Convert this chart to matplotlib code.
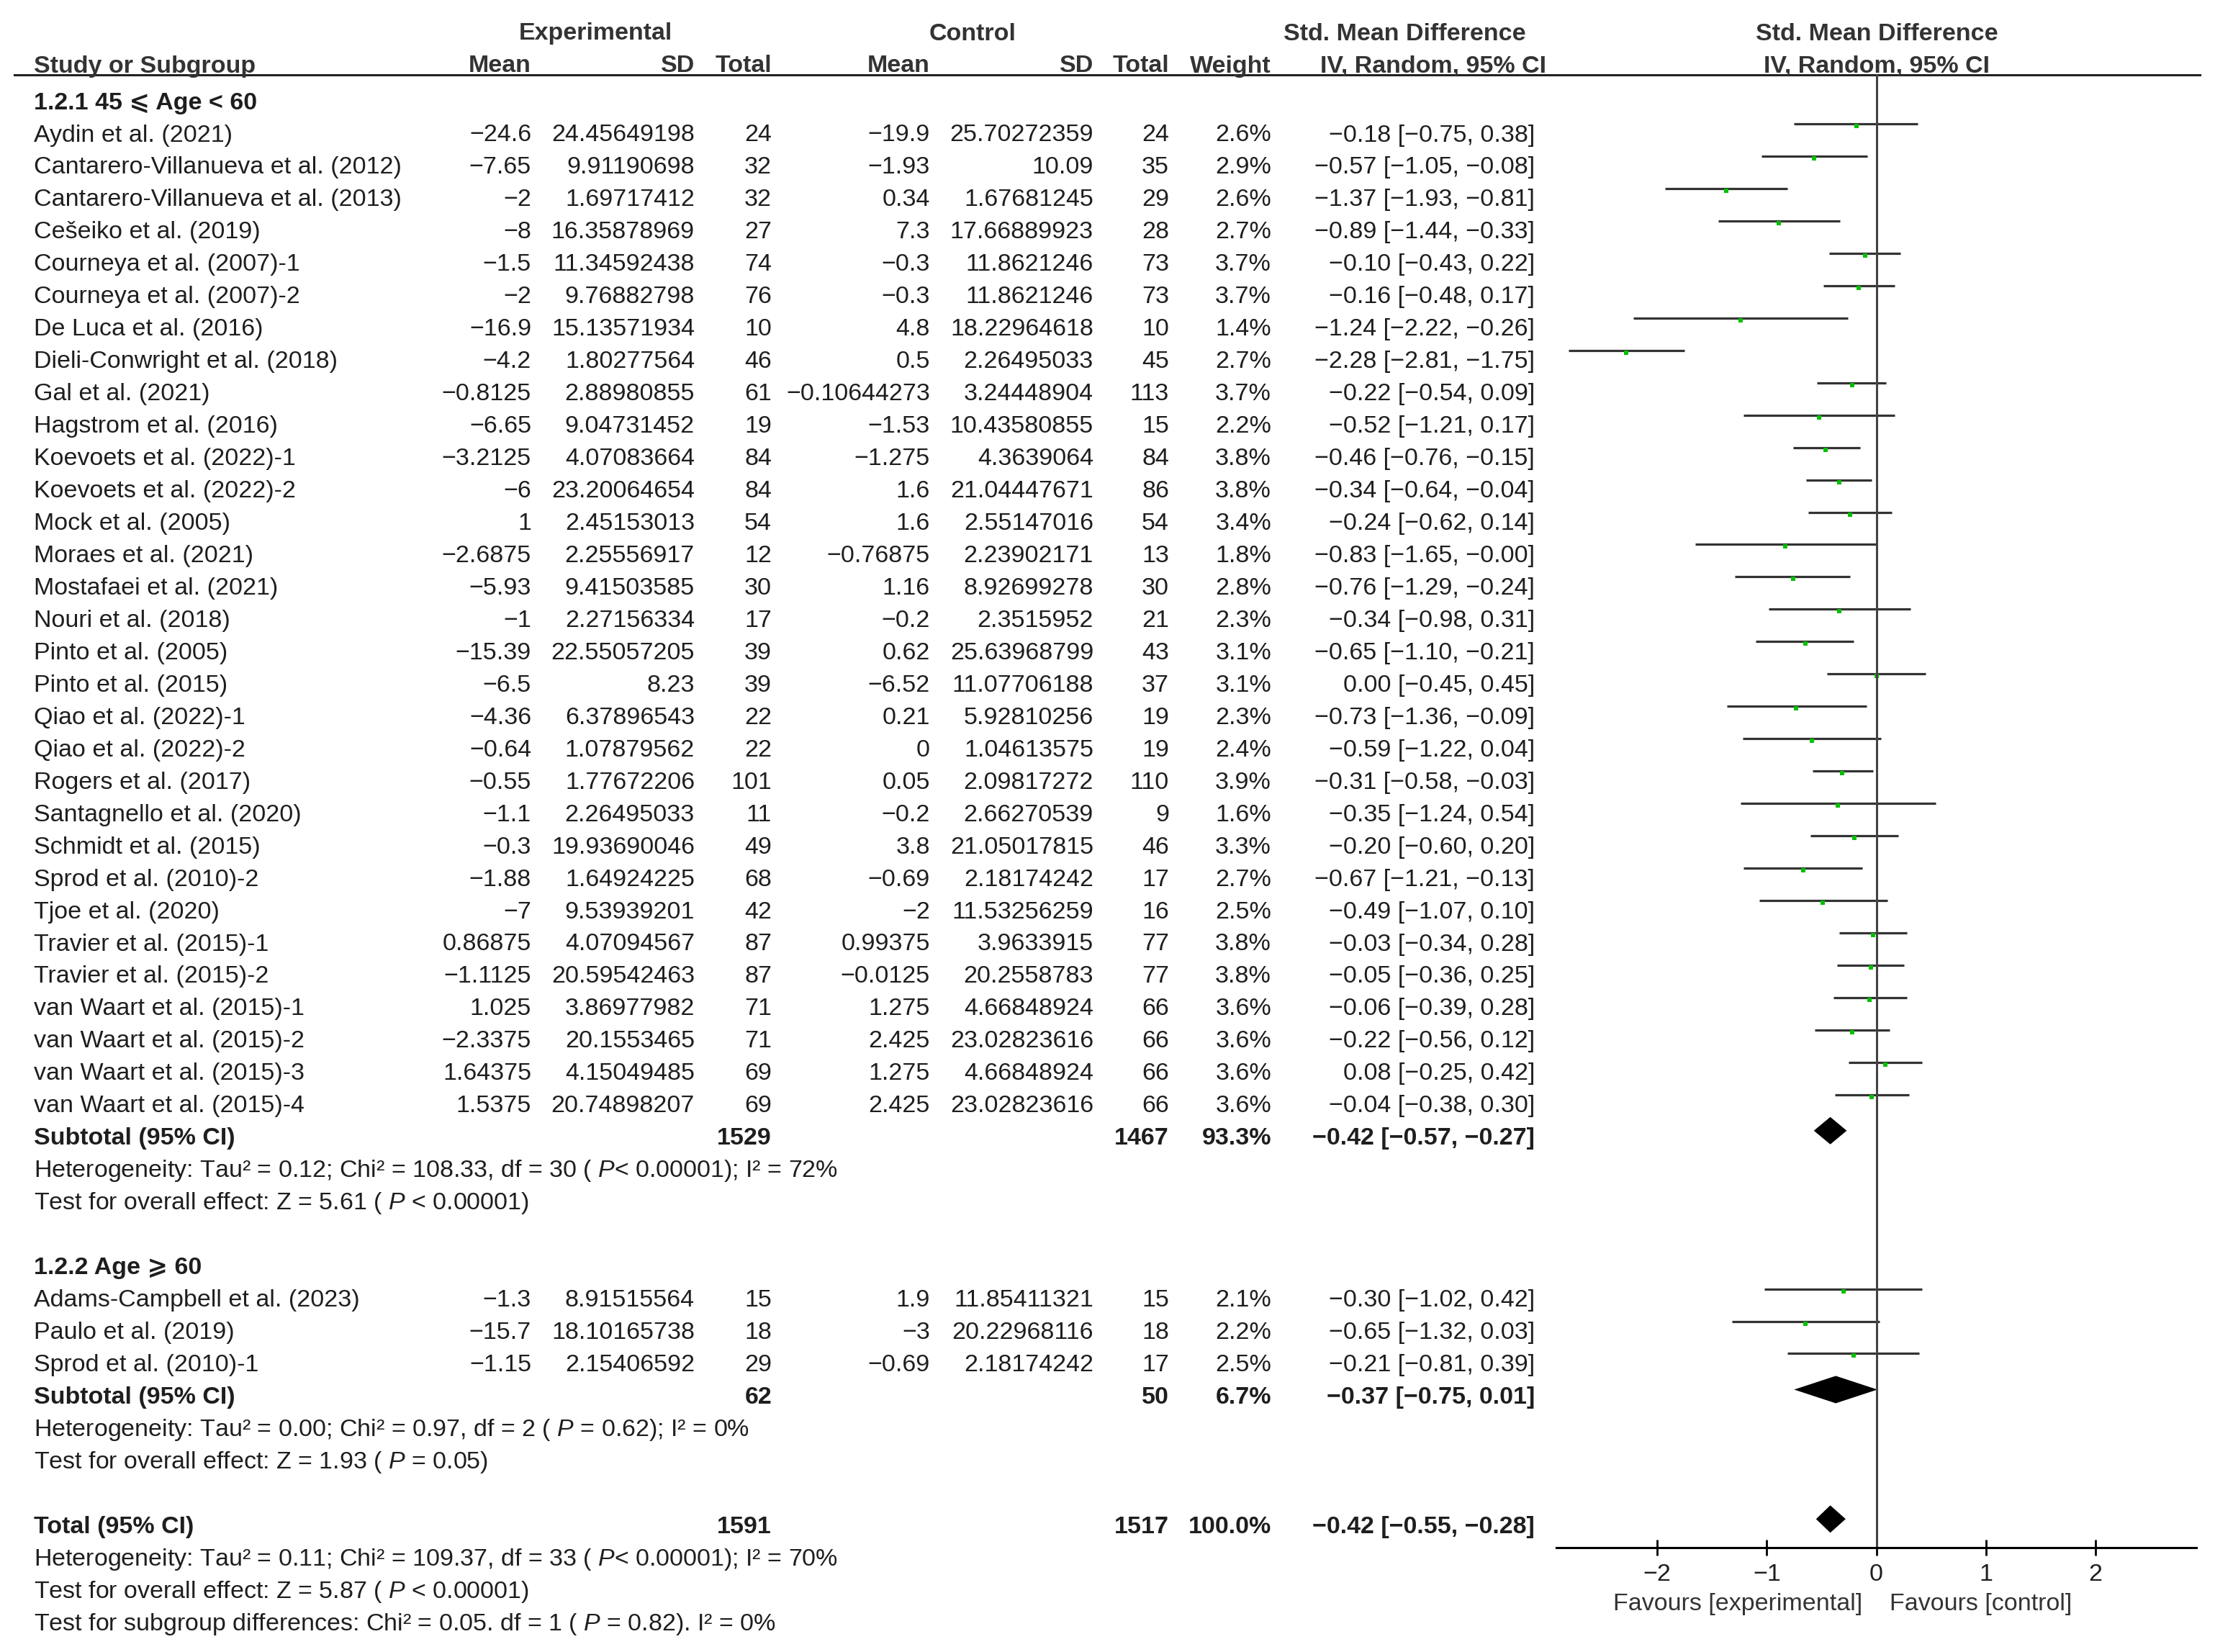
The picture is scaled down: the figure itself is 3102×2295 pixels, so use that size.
import matplotlib.pyplot as plt
import numpy as np

plt.rcParams['font.family'] = ['Liberation Sans', 'DejaVu Sans']
plt.rcParams['mathtext.fontset'] = 'custom'
plt.rcParams['mathtext.it'] = 'Liberation Sans:italic'
plt.rcParams['mathtext.rm'] = 'Liberation Sans'

# ---- subgroup 1.2.1 ----
studies1 = ['Aydin et al. (2021)', 'Cantarero-Villanueva et al. (2012)', 'Cantarero-Villanueva et al. (2013)',
            'Cešeiko et al. (2019)', 'Courneya et al. (2007)-1', 'Courneya et al. (2007)-2', 'De Luca et al. (2016)',
            'Dieli-Conwright et al. (2018)', 'Gal et al. (2021)', 'Hagstrom et al. (2016)', 'Koevoets et al. (2022)-1',
            'Koevoets et al. (2022)-2', 'Mock et al. (2005)', 'Moraes et al. (2021)', 'Mostafaei et al. (2021)',
            'Nouri et al. (2018)', 'Pinto et al. (2005)', 'Pinto et al. (2015)', 'Qiao et al. (2022)-1',
            'Qiao et al. (2022)-2', 'Rogers et al. (2017)', 'Santagnello et al. (2020)', 'Schmidt et al. (2015)',
            'Sprod et al. (2010)-2', 'Tjoe et al. (2020)', 'Travier et al. (2015)-1', 'Travier et al. (2015)-2',
            'van Waart et al. (2015)-1', 'van Waart et al. (2015)-2', 'van Waart et al. (2015)-3',
            'van Waart et al. (2015)-4']
exp_mean1 = ['−24.6', '−7.65', '−2', '−8', '−1.5', '−2', '−16.9', '−4.2', '−0.8125', '−6.65', '−3.2125', '−6', '1',
             '−2.6875', '−5.93', '−1', '−15.39', '−6.5', '−4.36', '−0.64', '−0.55', '−1.1', '−0.3', '−1.88', '−7',
             '0.86875', '−1.1125', '1.025', '−2.3375', '1.64375', '1.5375']
exp_sd1 = ['24.45649198', '9.91190698', '1.69717412', '16.35878969', '11.34592438', '9.76882798', '15.13571934',
           '1.80277564', '2.88980855', '9.04731452', '4.07083664', '23.20064654', '2.45153013', '2.25556917',
           '9.41503585', '2.27156334', '22.55057205', '8.23', '6.37896543', '1.07879562', '1.77672206', '2.26495033',
           '19.93690046', '1.64924225', '9.53939201', '4.07094567', '20.59542463', '3.86977982', '20.1553465',
           '4.15049485', '20.74898207']
exp_n1 = [24, 32, 32, 27, 74, 76, 10, 46, 61, 19, 84, 84, 54, 12, 30, 17, 39, 39, 22, 22, 101, 11, 49, 68, 42, 87,
          87, 71, 71, 69, 69]
ctl_mean1 = ['−19.9', '−1.93', '0.34', '7.3', '−0.3', '−0.3', '4.8', '0.5', '−0.10644273', '−1.53', '−1.275', '1.6',
             '1.6', '−0.76875', '1.16', '−0.2', '0.62', '−6.52', '0.21', '0', '0.05', '−0.2', '3.8', '−0.69', '−2',
             '0.99375', '−0.0125', '1.275', '2.425', '1.275', '2.425']
ctl_sd1 = ['25.70272359', '10.09', '1.67681245', '17.66889923', '11.8621246', '11.8621246', '18.22964618',
           '2.26495033', '3.24448904', '10.43580855', '4.3639064', '21.04447671', '2.55147016', '2.23902171',
           '8.92699278', '2.3515952', '25.63968799', '11.07706188', '5.92810256', '1.04613575', '2.09817272',
           '2.66270539', '21.05017815', '2.18174242', '11.53256259', '3.9633915', '20.2558783', '4.66848924',
           '23.02823616', '4.66848924', '23.02823616']
ctl_n1 = [24, 35, 29, 28, 73, 73, 10, 45, 113, 15, 84, 86, 54, 13, 30, 21, 43, 37, 19, 19, 110, 9, 46, 17, 16, 77,
          77, 66, 66, 66, 66]
weight1 = [2.6, 2.9, 2.6, 2.7, 3.7, 3.7, 1.4, 2.7, 3.7, 2.2, 3.8, 3.8, 3.4, 1.8, 2.8, 2.3, 3.1, 3.1, 2.3, 2.4, 3.9,
           1.6, 3.3, 2.7, 2.5, 3.8, 3.8, 3.6, 3.6, 3.6, 3.6]
smd1 = [-0.18, -0.57, -1.37, -0.89, -0.10, -0.16, -1.24, -2.28, -0.22, -0.52, -0.46, -0.34, -0.24, -0.83, -0.76,
        -0.34, -0.65, 0.00, -0.73, -0.59, -0.31, -0.35, -0.20, -0.67, -0.49, -0.03, -0.05, -0.06, -0.22, 0.08, -0.04]
lo1 = [-0.75, -1.05, -1.93, -1.44, -0.43, -0.48, -2.22, -2.81, -0.54, -1.21, -0.76, -0.64, -0.62, -1.65, -1.29,
       -0.98, -1.10, -0.45, -1.36, -1.22, -0.58, -1.24, -0.60, -1.21, -1.07, -0.34, -0.36, -0.39, -0.56, -0.25, -0.38]
hi1 = [0.38, -0.08, -0.81, -0.33, 0.22, 0.17, -0.26, -1.75, 0.09, 0.17, -0.15, -0.04, 0.14, -0.00, -0.24, 0.31,
       -0.21, 0.45, -0.09, 0.04, -0.03, 0.54, 0.20, -0.13, 0.10, 0.28, 0.25, 0.28, 0.12, 0.42, 0.30]

# ---- subgroup 1.2.2 ----
studies2 = ['Adams-Campbell et al. (2023)', 'Paulo et al. (2019)', 'Sprod et al. (2010)-1']
exp_mean2 = ['−1.3', '−15.7', '−1.15']
exp_sd2 = ['8.91515564', '18.10165738', '2.15406592']
exp_n2 = [15, 18, 29]
ctl_mean2 = ['1.9', '−3', '−0.69']
ctl_sd2 = ['11.85411321', '20.22968116', '2.18174242']
ctl_n2 = [15, 18, 17]
weight2 = [2.1, 2.2, 2.5]
smd2 = [-0.30, -0.65, -0.21]
lo2 = [-1.02, -1.32, -0.81]
hi2 = [0.42, 0.03, 0.39]

# ---- pooled estimates: subgroup 1, subgroup 2, total ----
pooled_label = ['Subtotal (95% CI)', 'Subtotal (95% CI)', 'Total (95% CI)']
pooled_exp_n = [1529, 62, 1591]
pooled_ctl_n = [1467, 50, 1517]
pooled_weight = ['93.3%', '6.7%', '100.0%']
pooled_smd = [-0.42, -0.37, -0.42]
pooled_lo = [-0.57, -0.75, -0.55]
pooled_hi = [-0.27, 0.01, -0.28]
pooled_notes = [
    ['Heterogeneity: Tau² = 0.12; Chi² = 108.33, df = 30 ( $\\mathit{P}$< 0.00001); I² = 72%',
     'Test for overall effect: Z = 5.61 ( $\\mathit{P}$ < 0.00001)'],
    ['Heterogeneity: Tau² = 0.00; Chi² = 0.97, df = 2 ( $\\mathit{P}$ = 0.62); I² = 0%',
     'Test for overall effect: Z = 1.93 ( $\\mathit{P}$ = 0.05)'],
    ['Heterogeneity: Tau² = 0.11; Chi² = 109.37, df = 33 ( $\\mathit{P}$< 0.00001); I² = 70%',
     'Test for overall effect: Z = 5.87 ( $\\mathit{P}$ < 0.00001)',
     'Test for subgroup differences: Chi² = 0.05. df = 1 ( $\\mathit{P}$ = 0.82). I² = 0%'],
]
group_labels = ['1.2.1 45 ⩽ Age < 60', '1.2.2 Age ⩾ 60']
xticks = [-2, -1, 0, 1, 2]

W, H = 3102, 2295
FS = 24.5
TXT = '#1e1e1e'
HDR = '#333333'

fig = plt.figure(figsize=(W / 100, H / 100), dpi=100)
ax = fig.add_axes([0, 0, 1, 1])
ax.set_xlim(0, W)
ax.set_ylim(H, 0)
ax.axis('off')

AXIS_Y = 2150
fa = fig.add_axes([2162 / W, (H - AXIS_Y) / H, 889 / W, AXIS_Y / H])
fa.set_facecolor('none')
fa.set_xlim(-2.92, 2.92)
fa.set_ylim(AXIS_Y, 0)
for s in ['left', 'right', 'top']:
    fa.spines[s].set_visible(False)
fa.spines['bottom'].set_linewidth(2.2)
fa.set_yticks([])
fa.set_xticks(xticks)
fa.tick_params(axis='x', direction='inout', length=16, width=2, labelsize=FS, pad=8, labelcolor=TXT)

# columns (right edges) and rows
X_NAME = 47
X_EM, X_ES, X_EN = 738, 965, 1072
X_CM, X_CS, X_CN = 1292, 1519, 1624
X_W, X_CI = 1766, 2132
Y0, DY = 184, 44.96
TXT_DY = 4      # text sits slightly lower than the marks
LINE_DY = -12
MARK_DY = -9
DIAM_DY = -7


def ry(i):
    return Y0 + DY * (i - 1)


def fmt(v):
    return ('%.2f' % v).replace('-', '−')


def ci_text(e, l, h):
    return '%s [%s, %s]' % (fmt(e), fmt(l), fmt(h))


def put(x, i, s, ha='right', bold=False, color=TXT):
    ax.text(x, ry(i) + TXT_DY, s, ha=ha, va='center', fontsize=FS, color=color,
            fontweight='bold' if bold else 'normal')


def diamond(i, e, l, h):
    y = ry(i) + DIAM_DY
    fa.fill([l, e, h, e], [y, y - 19, y, y + 19], color='black', lw=0)


# header
for x, y, s, ha in [(827, 47, 'Experimental', 'center'), (1351, 47, 'Control', 'center'),
                    (1951, 47, 'Std. Mean Difference', 'center'), (2607, 47, 'Std. Mean Difference', 'center'),
                    (X_NAME, 92, 'Study or Subgroup', 'left'), (X_EM, 92, 'Mean', 'right'),
                    (X_ES, 92, 'SD', 'right'), (X_EN, 92, 'Total', 'right'), (X_CM, 92, 'Mean', 'right'),
                    (X_CS, 92, 'SD', 'right'), (X_CN, 92, 'Total', 'right'), (X_W, 92, 'Weight', 'right'),
                    (2148, 92, 'IV, Random, 95% CI', 'right'), (2607, 92, 'IV, Random, 95% CI', 'center')]:
    ax.text(x, y, s, ha=ha, va='center', fontsize=FS, fontweight='bold', color=HDR)
ax.plot([20, 3056], [104, 104], color='#222222', lw=2.2)

groups = [
    (studies1, exp_mean1, exp_sd1, exp_n1, ctl_mean1, ctl_sd1, ctl_n1, weight1, smd1, lo1, hi1),
    (studies2, exp_mean2, exp_sd2, exp_n2, ctl_mean2, ctl_sd2, ctl_n2, weight2, smd2, lo2, hi2),
]

row = 0
for g, data in enumerate(groups):
    names, em, es, en, cm, cs, cn, wt, est, lo, hi = data
    put(X_NAME, row, group_labels[g], ha='left', bold=True)
    row += 1
    for k in range(len(names)):
        put(X_NAME, row, names[k], ha='left')
        put(X_EM, row, em[k])
        put(X_ES, row, es[k])
        put(X_EN, row, str(en[k]))
        put(X_CM, row, cm[k])
        put(X_CS, row, cs[k])
        put(X_CN, row, str(cn[k]))
        put(X_W, row, '%.1f%%' % wt[k])
        put(X_CI, row, ci_text(est[k], lo[k], hi[k]))
        y = ry(row)
        fa.plot([lo[k], hi[k]], [y + LINE_DY] * 2, color='#333333', lw=2.3, solid_capstyle='butt')
        fa.plot(est[k], y + MARK_DY, 's', color='#00c000', ms=3.4 + 0.4 * wt[k], mew=0)
        row += 1
    # subtotal
    put(X_NAME, row, pooled_label[g], ha='left', bold=True)
    put(X_EN, row, str(pooled_exp_n[g]), bold=True)
    put(X_CN, row, str(pooled_ctl_n[g]), bold=True)
    put(X_W, row, pooled_weight[g], bold=True)
    put(X_CI, row, ci_text(pooled_smd[g], pooled_lo[g], pooled_hi[g]), bold=True)
    diamond(row, pooled_smd[g], pooled_lo[g], pooled_hi[g])
    row += 1
    for note in pooled_notes[g]:
        put(X_NAME, row, note, ha='left')
        row += 1
    row += 1

# overall total
put(X_NAME, row, pooled_label[2], ha='left', bold=True)
put(X_EN, row, str(pooled_exp_n[2]), bold=True)
put(X_CN, row, str(pooled_ctl_n[2]), bold=True)
put(X_W, row, pooled_weight[2], bold=True)
put(X_CI, row, ci_text(pooled_smd[2], pooled_lo[2], pooled_hi[2]), bold=True)
diamond(row, pooled_smd[2], pooled_lo[2], pooled_hi[2])
row += 1
for note in pooled_notes[2]:
    put(X_NAME, row, note, ha='left')
    row += 1

# zero line
fa.plot([0, 0], [104, AXIS_Y], color='#444444', lw=2.2, clip_on=False)

ax.text(2587, 2229, 'Favours [experimental]', ha='right', va='center', fontsize=FS, color=HDR)
ax.text(2625, 2229, 'Favours [control]', ha='left', va='center', fontsize=FS, color=HDR)

fig.savefig('out.png', dpi=100)
